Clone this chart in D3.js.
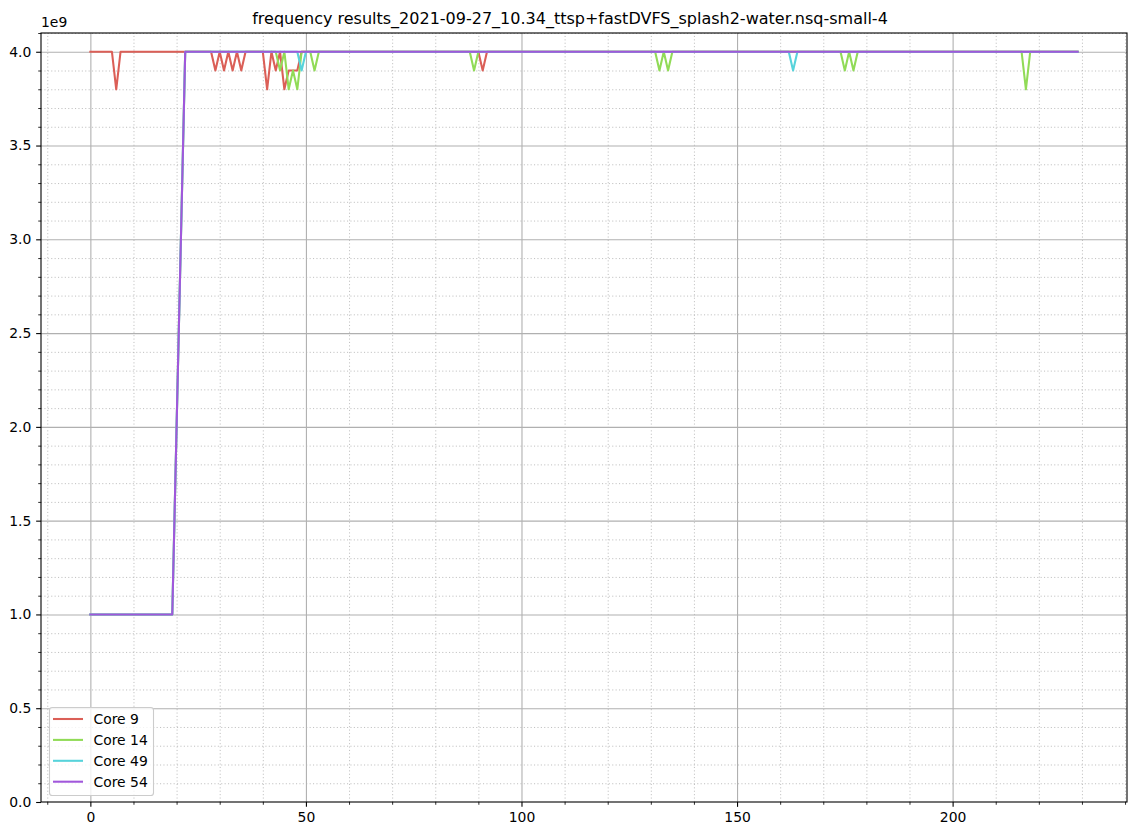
<!DOCTYPE html>
<html><head><meta charset="utf-8">
<script src="https://cdn.jsdelivr.net/npm/d3@7"></script>
<style>body{margin:0;background:#fff;} svg{display:block;font-family:"DejaVu Sans",sans-serif;}</style>
</head><body><svg id="chart" width="1140" height="836"></svg>
<script>
// ---------- data (frequency in units of 1e9 Hz) ----------
const chartTitle = "frequency results_2021-09-27_10.34_ttsp+fastDVFS_splash2-water.nsq-small-4";
const seriesNames = ["Core 9", "Core 14", "Core 49", "Core 54"];
const seriesColors = ["#db5f57", "#91db57", "#57d3db", "#a157db"];
const timeSteps = d3.range(0, 230);

const core9 = [
 4,4,4,4,4,4,3.8,4,4,4,
 4,4,4,4,4,4,4,4,4,4,
 4,4,4,4,4,4,4,4,4,3.9,
 4,3.9,4,3.9,4,3.9,4,4,4,4,
 4,3.8,4,3.9,4,3.8,3.9,3.9,3.9,4,
 4,4,4,4,4,4,4,4,4,4,
 4,4,4,4,4,4,4,4,4,4,
 4,4,4,4,4,4,4,4,4,4,
 4,4,4,4,4,4,4,4,4,4,
 4,3.9,4,4,4,4,4,4,4,4,
 4,4,4,4,4,4,4,4,4,4,
 4,4,4,4,4,4,4,4,4,4,
 4,4,4,4,4,4,4,4,4,4,
 4,4,4,4,4,4,4,4,4,4,
 4,4,4,4,4,4,4,4,4,4,
 4,4,4,4,4,4,4,4,4,4,
 4,4,4,4,4,4,4,4,4,4,
 4,4,4,4,4,4,4,4,4,4,
 4,4,4,4,4,4,4,4,4,4,
 4,4,4,4,4,4,4,4,4,4,
 4,4,4,4,4,4,4,4,4,4,
 4,4,4,4,4,4,4,4,4,4,
 4,4,4,4,4,4,4,4,4,4
];
const core14 = [
 1,1,1,1,1,1,1,1,1,1,
 1,1,1,1,1,1,1,1,1,1,
 2,3,4,4,4,4,4,4,4,4,
 4,4,4,4,4,4,4,4,4,4,
 4,4,4,4,3.9,4,3.8,3.9,3.8,4,
 4,4,3.9,4,4,4,4,4,4,4,
 4,4,4,4,4,4,4,4,4,4,
 4,4,4,4,4,4,4,4,4,4,
 4,4,4,4,4,4,4,4,4,3.9,
 4,4,4,4,4,4,4,4,4,4,
 4,4,4,4,4,4,4,4,4,4,
 4,4,4,4,4,4,4,4,4,4,
 4,4,4,4,4,4,4,4,4,4,
 4,4,3.9,4,3.9,4,4,4,4,4,
 4,4,4,4,4,4,4,4,4,4,
 4,4,4,4,4,4,4,4,4,4,
 4,4,4,4,4,4,4,4,4,4,
 4,4,4,4,4,3.9,4,3.9,4,4,
 4,4,4,4,4,4,4,4,4,4,
 4,4,4,4,4,4,4,4,4,4,
 4,4,4,4,4,4,4,4,4,4,
 4,4,4,4,4,4,4,3.8,4,4,
 4,4,4,4,4,4,4,4,4,4
];
const core49 = [
 1,1,1,1,1,1,1,1,1,1,
 1,1,1,1,1,1,1,1,1,1,
 2,3,4,4,4,4,4,4,4,4,
 4,4,4,4,4,4,4,4,4,4,
 4,4,4,4,4,4,4,4,4,3.9,
 4,4,4,4,4,4,4,4,4,4,
 4,4,4,4,4,4,4,4,4,4,
 4,4,4,4,4,4,4,4,4,4,
 4,4,4,4,4,4,4,4,4,4,
 4,4,4,4,4,4,4,4,4,4,
 4,4,4,4,4,4,4,4,4,4,
 4,4,4,4,4,4,4,4,4,4,
 4,4,4,4,4,4,4,4,4,4,
 4,4,4,4,4,4,4,4,4,4,
 4,4,4,4,4,4,4,4,4,4,
 4,4,4,4,4,4,4,4,4,4,
 4,4,4,3.9,4,4,4,4,4,4,
 4,4,4,4,4,4,4,4,4,4,
 4,4,4,4,4,4,4,4,4,4,
 4,4,4,4,4,4,4,4,4,4,
 4,4,4,4,4,4,4,4,4,4,
 4,4,4,4,4,4,4,4,4,4,
 4,4,4,4,4,4,4,4,4,4
];
const core54 = [
 1,1,1,1,1,1,1,1,1,1,
 1,1,1,1,1,1,1,1,1,1,
 2,3,4,4,4,4,4,4,4,4,
 4,4,4,4,4,4,4,4,4,4,
 4,4,4,4,4,4,4,4,4,4,
 4,4,4,4,4,4,4,4,4,4,
 4,4,4,4,4,4,4,4,4,4,
 4,4,4,4,4,4,4,4,4,4,
 4,4,4,4,4,4,4,4,4,4,
 4,4,4,4,4,4,4,4,4,4,
 4,4,4,4,4,4,4,4,4,4,
 4,4,4,4,4,4,4,4,4,4,
 4,4,4,4,4,4,4,4,4,4,
 4,4,4,4,4,4,4,4,4,4,
 4,4,4,4,4,4,4,4,4,4,
 4,4,4,4,4,4,4,4,4,4,
 4,4,4,4,4,4,4,4,4,4,
 4,4,4,4,4,4,4,4,4,4,
 4,4,4,4,4,4,4,4,4,4,
 4,4,4,4,4,4,4,4,4,4,
 4,4,4,4,4,4,4,4,4,4,
 4,4,4,4,4,4,4,4,4,4,
 4,4,4,4,4,4,4,4,4,4
];
const seriesValues = [core9, core14, core49, core54];

const xTicks = [0, 50, 100, 150, 200];
const xMinorTicks = [-10, 10, 20, 30, 40, 60, 70, 80, 90, 110, 120, 130, 140, 160, 170, 180, 190, 210, 220, 230, 240];
const yTicks = [0, 0.5, 1.0, 1.5, 2.0, 2.5, 3.0, 3.5, 4.0];
const yTickLabels = ["0.0", "0.5", "1.0", "1.5", "2.0", "2.5", "3.0", "3.5", "4.0"];
const yMinorTicks = [0.1,0.2,0.3,0.4,0.6,0.7,0.8,0.9,1.1,1.2,1.3,1.4,1.6,1.7,1.8,1.9,2.1,2.2,2.3,2.4,2.6,2.7,2.8,2.9,3.1,3.2,3.3,3.4,3.6,3.7,3.8,3.9,4.1];
const yOffsetLabel = "1e9";

// ---------- layout ----------
const W = 1140, H = 836;
const L = 41, R = 1127, T = 33, B = 802;
const fs = 13.9;
const svg = d3.select("#chart");

const x = d3.scaleLinear().domain([-11.45, 240.45]).range([L, R]);
const y = d3.scaleLinear().domain([0, 4.1]).range([B, T]);

const clipId = "plotclip";
svg.append("defs").append("clipPath").attr("id", clipId)
  .append("rect").attr("x", L).attr("y", T).attr("width", R - L).attr("height", B - T);

// grids
const gridG = svg.append("g").attr("clip-path", `url(#${clipId})`);
function grid(axisGen, transform, dashed) {
  const g = gridG.append("g").attr("transform", transform).call(axisGen);
  g.select(".domain").remove();
  g.selectAll("text").remove();
  g.selectAll("line").attr("stroke", "#b0b0b0").attr("stroke-width", dashed ? 0.8 : 1.1)
    .attr("stroke-dasharray", dashed ? "1.1,2.3" : null);
}
grid(d3.axisBottom(x).tickValues(xMinorTicks).tickSize(-(B - T)), `translate(0,${B})`, true);
grid(d3.axisLeft(y).tickValues(yMinorTicks).tickSize(-(R - L)), `translate(${L},0)`, true);
grid(d3.axisBottom(x).tickValues(xTicks).tickSize(-(B - T)), `translate(0,${B})`, false);
grid(d3.axisLeft(y).tickValues(yTicks).tickSize(-(R - L)), `translate(${L},0)`, false);

// lines
const line = d3.line().x((d, i) => x(timeSteps[i])).y(d => y(d));
const linesG = svg.append("g").attr("clip-path", `url(#${clipId})`);
seriesValues.forEach((vals, k) => {
  linesG.append("path").datum(vals).attr("d", line)
    .attr("fill", "none").attr("stroke", seriesColors[k]).attr("stroke-width", 2.08)
    .attr("stroke-linejoin", "round").attr("stroke-linecap", "square");
});

// axes
function styleAxis(g, minor) {
  g.select(".domain").remove();
  g.selectAll("line").attr("stroke", "#000").attr("stroke-width", minor ? 0.83 : 1.1);
  g.selectAll("text").attr("font-size", fs).attr("fill", "#000").attr("font-family", "DejaVu Sans");
}
svg.append("g").attr("transform", `translate(0,${B})`)
  .call(d3.axisBottom(x).tickValues(xMinorTicks).tickSize(2.78).tickFormat(""))
  .call(g => styleAxis(g, true));
svg.append("g").attr("transform", `translate(0,${B})`)
  .call(d3.axisBottom(x).tickValues(xTicks).tickSize(4.86).tickPadding(4.86).tickFormat(d3.format("d")))
  .call(g => styleAxis(g, false));
svg.append("g").attr("transform", `translate(${L},0)`)
  .call(d3.axisLeft(y).tickValues(yMinorTicks).tickSize(2.78).tickFormat(""))
  .call(g => styleAxis(g, true));
svg.append("g").attr("transform", `translate(${L},0)`)
  .call(d3.axisLeft(y).tickValues(yTicks).tickSize(4.86).tickPadding(4.86).tickFormat((d, i) => yTickLabels[i]))
  .call(g => styleAxis(g, false));

// spines
svg.append("rect").attr("x", L).attr("y", T).attr("width", R - L).attr("height", B - T)
  .attr("fill", "none").attr("stroke", "#000").attr("stroke-width", 1.1);

// offset text & title
svg.append("text").attr("x", L).attr("y", T - 6).attr("font-size", fs).text(yOffsetLabel);
svg.append("text").attr("x", W / 2).attr("y", 24).attr("text-anchor", "middle")
  .attr("font-size", 16).text(chartTitle);

// legend
const lg = svg.append("g");
lg.append("rect").attr("x", 49.5).attr("y", 707.5).attr("width", 104).attr("height", 88)
  .attr("rx", 2.8).attr("fill", "#fff").attr("fill-opacity", 0.8)
  .attr("stroke", "#cccccc").attr("stroke-width", 1.1);
seriesNames.forEach((name, k) => {
  const yy = 719 + k * 20.9;
  lg.append("line").attr("x1", 53).attr("x2", 83).attr("y1", yy).attr("y2", yy)
    .attr("stroke", seriesColors[k]).attr("stroke-width", 2.08);
  lg.append("text").attr("x", 93.5).attr("y", yy).attr("dy", "0.36em")
    .attr("font-size", fs).text(name);
});
</script></body></html>
